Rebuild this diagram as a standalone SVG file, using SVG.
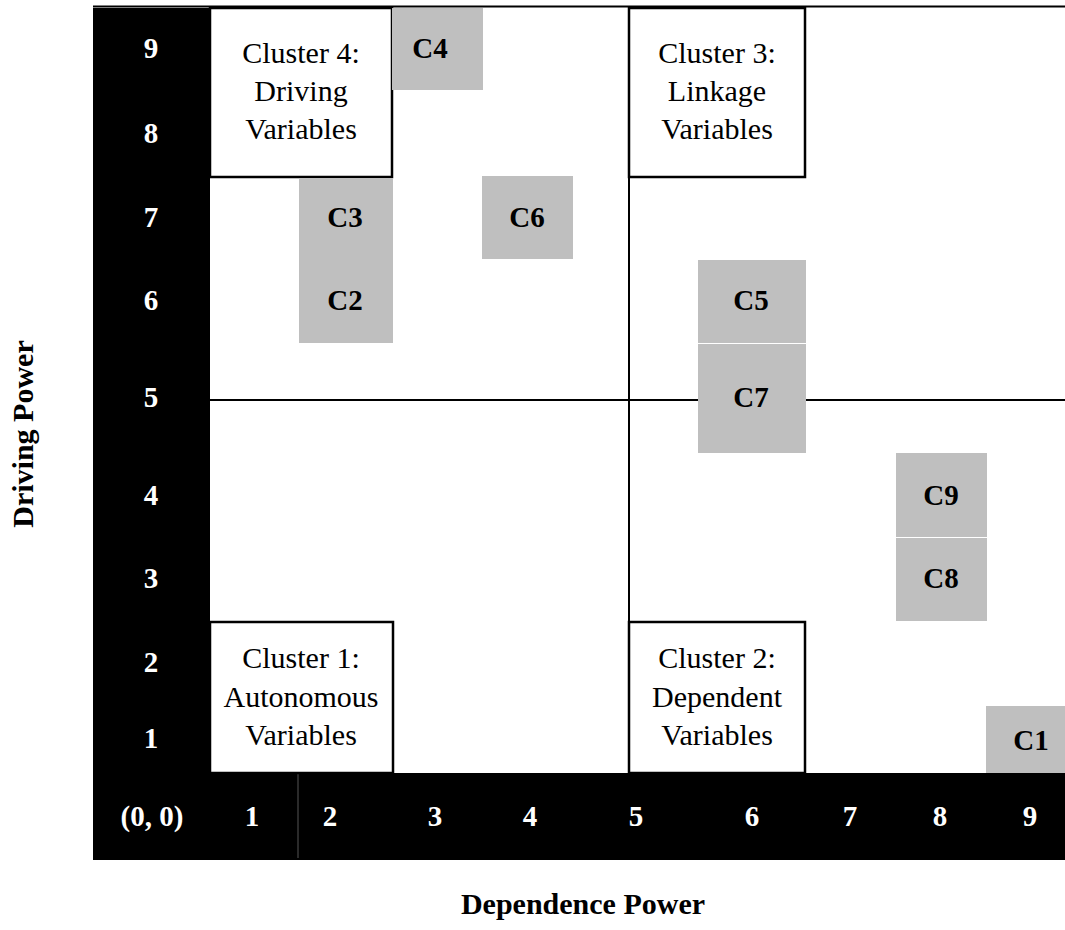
<svg xmlns="http://www.w3.org/2000/svg" width="1065" height="930" viewBox="0 0 1065 930">
<style>
.bold{font-family:"Liberation Serif","Times New Roman",serif;font-weight:bold;font-size:29px;text-anchor:middle;}
.ax{fill:#ffffff;}
.lbl{fill:#000000;}
.reg{font-family:"Liberation Serif","Times New Roman",serif;font-size:30px;text-anchor:middle;fill:#000;}
.title{font-family:"Liberation Serif","Times New Roman",serif;font-weight:bold;font-size:30px;text-anchor:middle;fill:#000;}
.cell{fill:#bfbfbf;}
.clbox{fill:#ffffff;stroke:#000;stroke-width:2.5;}
.quad{stroke:#000;stroke-width:2;fill:none;}
</style>
<rect x="0" y="0" width="1065" height="930" fill="#ffffff"/>

<g id="axes-background">
  <rect x="93" y="8" width="117" height="852" fill="#000"/>
  <rect x="93" y="773" width="972" height="87" fill="#000"/>
  <line x1="298" y1="773" x2="298" y2="858" stroke="#555" stroke-width="1"/>
</g>

<g id="connectors">
  <line class="quad" x1="93" y1="6.5" x2="1065" y2="6.5" stroke-width="3"/>
  <line class="quad" x1="629" y1="8" x2="629" y2="773"/>
  <line class="quad" x1="210" y1="400" x2="1065" y2="400"/>
</g>

<g id="y-axis-labels">
  <text class="bold ax" x="151" y="58">9</text>
  <text class="bold ax" x="151" y="143">8</text>
  <text class="bold ax" x="151" y="227">7</text>
  <text class="bold ax" x="151" y="310">6</text>
  <text class="bold ax" x="151" y="407">5</text>
  <text class="bold ax" x="151" y="505">4</text>
  <text class="bold ax" x="151" y="588">3</text>
  <text class="bold ax" x="151" y="672">2</text>
  <text class="bold ax" x="151" y="748">1</text>
</g>

<g id="x-axis-labels">
  <text class="bold ax" x="152" y="826">(0, 0)</text>
  <text class="bold ax" x="252" y="826">1</text>
  <text class="bold ax" x="330" y="826">2</text>
  <text class="bold ax" x="435" y="826">3</text>
  <text class="bold ax" x="530" y="826">4</text>
  <text class="bold ax" x="636" y="826">5</text>
  <text class="bold ax" x="752" y="826">6</text>
  <text class="bold ax" x="850" y="826">7</text>
  <text class="bold ax" x="940" y="826">8</text>
  <text class="bold ax" x="1030" y="826">9</text>
</g>

<g id="cluster4">
  <rect class="clbox" x="210" y="8" width="182" height="169"/>
  <text class="reg" x="301" y="63">Cluster 4:</text>
  <text class="reg" x="301" y="101">Driving</text>
  <text class="reg" x="301" y="139">Variables</text>
</g>
<g id="cluster3">
  <rect class="clbox" x="629" y="8" width="176" height="169"/>
  <text class="reg" x="717" y="63">Cluster 3:</text>
  <text class="reg" x="717" y="101">Linkage</text>
  <text class="reg" x="717" y="139">Variables</text>
</g>
<g id="cluster1">
  <rect class="clbox" x="210" y="622" width="183" height="151"/>
  <text class="reg" x="301" y="668">Cluster 1:</text>
  <text class="reg" x="301" y="707">Autonomous</text>
  <text class="reg" x="301" y="745">Variables</text>
</g>
<g id="cluster2">
  <rect class="clbox" x="629" y="622" width="176" height="151"/>
  <text class="reg" x="717" y="668">Cluster 2:</text>
  <text class="reg" x="717" y="707">Dependent</text>
  <text class="reg" x="717" y="745">Variables</text>
</g>

<g id="C4"><rect class="cell" x="392" y="8" width="91" height="82"/><text class="bold lbl" x="430" y="58">C4</text></g>
<g id="C3"><rect class="cell" x="299" y="178" width="94" height="83"/><text class="bold lbl" x="345" y="227">C3</text></g>
<g id="C2"><rect class="cell" x="299" y="260" width="94" height="83"/><text class="bold lbl" x="345" y="310">C2</text></g>
<g id="C6"><rect class="cell" x="482" y="176" width="91" height="83"/><text class="bold lbl" x="527" y="227">C6</text></g>
<g id="C5"><rect class="cell" x="698" y="260" width="108" height="83"/><text class="bold lbl" x="751" y="310">C5</text></g>
<g id="C7"><rect class="cell" x="698" y="344" width="108" height="109"/><text class="bold lbl" x="751" y="407">C7</text></g>
<g id="C9"><rect class="cell" x="896" y="453" width="91" height="84"/><text class="bold lbl" x="941" y="505">C9</text></g>
<g id="C8"><rect class="cell" x="896" y="538" width="91" height="83"/><text class="bold lbl" x="941" y="588">C8</text></g>
<g id="C1"><rect class="cell" x="986" y="706" width="79" height="67"/><text class="bold lbl" x="1031" y="750">C1</text></g>

<g id="axis-titles">
  <text class="title" x="583" y="914">Dependence Power</text>
  <text class="title" transform="translate(33,434) rotate(-90)" x="0" y="0">Driving Power</text>
</g>
</svg>
